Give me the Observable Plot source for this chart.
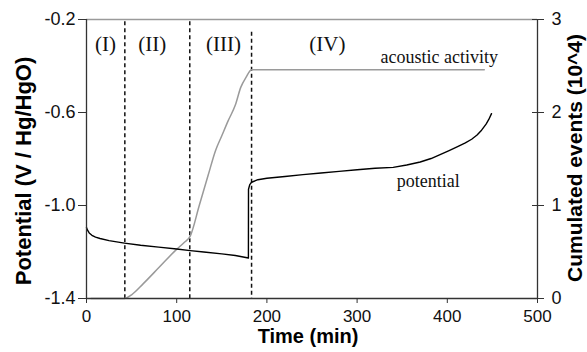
<!DOCTYPE html>
<html><head><meta charset="utf-8">
<script src="https://cdn.jsdelivr.net/npm/d3@7"></script>
<script src="https://cdn.jsdelivr.net/npm/@observablehq/plot@0.6"></script>
<style>body{margin:0;background:#fff}</style>
</head><body><div id="chart"></div>
<script>
// Potential (V vs Hg/HgO) over time (min)
const potentialTime = [0, 1, 3, 6, 10, 15, 25, 42, 60, 80, 100, 115, 130, 150, 165, 179.5, 179.6, 181, 183, 190, 200, 220, 240, 260, 280, 300, 320, 340, 355, 370, 382, 392, 402, 412, 420, 427, 433, 438, 443, 446, 449];
const potentialValue = [-1.095, -1.105, -1.118, -1.128, -1.136, -1.142, -1.151, -1.162, -1.171, -1.179, -1.187, -1.194, -1.200, -1.208, -1.215, -1.226, -0.93, -0.91, -0.90, -0.889, -0.883, -0.875, -0.867, -0.860, -0.853, -0.846, -0.840, -0.836, -0.826, -0.813, -0.798, -0.781, -0.764, -0.746, -0.731, -0.715, -0.697, -0.676, -0.650, -0.630, -0.605];
// Cumulated acoustic events (10^4) over time (min)
const acousticTime = [5, 42, 50, 63, 80, 99, 108, 115, 125, 135, 143, 150, 157, 165, 171, 177, 183, 441];
const acousticValue = [0, 0, 0.04, 0.16, 0.33, 0.52, 0.60, 0.67, 1.0, 1.33, 1.59, 1.75, 1.91, 2.08, 2.27, 2.38, 2.46, 2.46];
// Phase boundaries (min) and labels
const phaseBoundaries = [42.5, 114.5, 183];
const phaseBoundaryTop = [-0.21, -0.21, -0.255];
const phaseLabels = ["(I)", "(II)", "(III)", "(IV)"];
const phaseLabelTime = [21, 73, 152, 267];
const phaseLabelPotential = -0.305;
const curveLabels = ["acoustic activity", "potential"];
const curveLabelTime = [391, 379];
const curveLabelPotential = [-0.363, -0.897];
// Ticks
const timeTicks = [0, 100, 200, 300, 400, 500];
const potentialTicks = [-1.4, -1.0, -0.6, -0.2];
const eventTicks = [0, 1, 2, 3];

const yMin = -1.4, yMax = -0.2, evMax = 3;
const evToY = v => yMin + v * (yMax - yMin) / evMax;

const potential = potentialTime.map((t, i) => ({t, v: potentialValue[i]}));
const acoustic = acousticTime.map((t, i) => ({t, v: evToY(acousticValue[i])}));
const bounds = phaseBoundaries.map((t, i) => ({t, top: phaseBoundaryTop[i]}));
const phases = phaseLabels.map((s, i) => ({s, t: phaseLabelTime[i], v: phaseLabelPotential}));
const curves = curveLabels.map((s, i) => ({s, t: curveLabelTime[i], v: curveLabelPotential[i]}));

const sans = "Liberation Sans, Arial, Helvetica, sans-serif";
const serif = "Liberation Serif, Times New Roman, serif";

const chart = Plot.plot({
  width: 587, height: 352,
  marginLeft: 86, marginRight: 50, marginTop: 19, marginBottom: 54,
  x: {domain: [0, 500], label: null},
  y: {domain: [yMin, yMax], label: null},
  style: {fontFamily: sans, background: "#fff", color: "#111", overflow: "visible"},
  marks: [
    Plot.ruleY([yMax], {stroke: "#9a9a9a", strokeWidth: 1.5}),
    Plot.ruleX(bounds, {x: "t", y1: "top", y2: yMin, stroke: "#111", strokeWidth: 1.5, strokeDasharray: "4,3"}),
    Plot.line(acoustic, {x: "t", y: "v", stroke: "#9a9a9a", strokeWidth: 1.5, curve: "monotone-x"}),
    Plot.line(potential, {x: "t", y: "v", stroke: "#000", strokeWidth: 1.4}),
    Plot.ruleX([0], {stroke: "#333", strokeWidth: 1.3}),
    Plot.ruleX([500], {stroke: "#333", strokeWidth: 1.3}),
    Plot.ruleY([yMin], {stroke: "#333", strokeWidth: 1.3}),
    Plot.axisY({anchor: "left", ticks: potentialTicks, tickSize: 8, tickPadding: 3, tickFormat: d => d.toFixed(1), fontSize: 18, stroke: "#333", fill: "#111", label: null}),
    Plot.axisY({anchor: "right", ticks: potentialTicks, tickSize: 12, dx: -6, tickFormat: () => "", stroke: "#333", label: null}),
    Plot.axisY({anchor: "right", ticks: potentialTicks, tickSize: 0, tickPadding: 14, tickFormat: d => String(eventTicks[potentialTicks.indexOf(d)]), fontSize: 18, fill: "#111", label: null}),
    Plot.axisX({ticks: timeTicks, tickSize: 5, tickPadding: 6, fontSize: 17, stroke: "#333", fill: "#111", label: null}),
    Plot.text(phases, {x: "t", y: "v", text: "s", fontFamily: serif, fontSize: 21, fill: "#111"}),
    Plot.text(curves, {x: "t", y: "v", text: "s", fontFamily: serif, fontSize: 18, fill: "#111"}),
    Plot.text(["Time (min)"], {frameAnchor: "bottom", textAnchor: "middle", dx: -4, dy: 44, fontSize: 20, fontWeight: "bold", fill: "#000"}),
    Plot.text(["Potential (V / Hg/HgO)"], {frameAnchor: "left", textAnchor: "middle", rotate: -90, dx: -63, dy: 12, fontSize: 22, fontWeight: "bold", fill: "#000"}),
    Plot.text(["Cumulated events (10^4)"], {frameAnchor: "right", textAnchor: "middle", rotate: -90, dx: 38, dy: -1, fontSize: 21, fontWeight: "bold", fill: "#000"})
  ]
});
document.getElementById("chart").appendChild(chart);
</script>
</body></html>
